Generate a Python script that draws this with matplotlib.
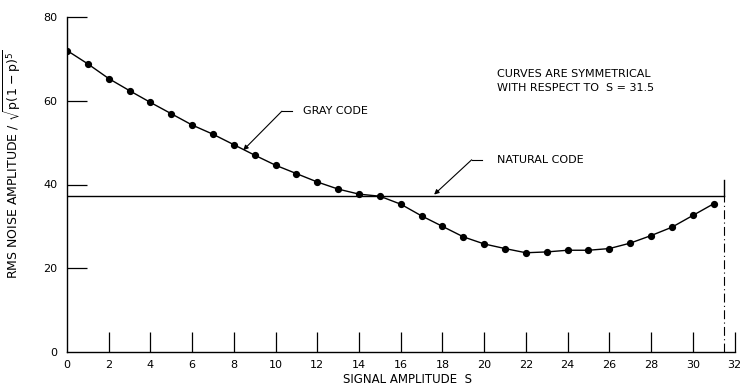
import numpy as np
import matplotlib.pyplot as plt

# signal amplitude S and rms noise (normalised)
s_vals = list(range(0, 32))
gray_code = [72.0, 68.8, 65.3, 62.4, 59.6, 56.9, 54.2, 52.0, 49.5, 47.0,
             44.6, 42.6, 40.6, 38.9, 37.7, 37.2, 35.3, 32.5, 30.0, 27.5,
             25.8, 24.7, 23.7, 23.9, 24.3, 24.3, 24.7, 26.0, 27.8, 29.8,
             32.6, 35.4]
natural_code = 37.3
sym_s = 31.5

x_ticks = list(range(0, 33, 2))
y_ticks = [0, 20, 40, 60, 80]

plt.rcParams['font.family'] = ['DejaVu Sans']
plt.rcParams['font.size'] = 8

fig = plt.figure(figsize=(7.41, 3.90), dpi=100)
ax = fig.add_axes([67 / 741, 38 / 390, 667.5 / 741, 335 / 390])

ax.plot(s_vals, gray_code, color='black', lw=1.0, marker='o', ms=4.2)
ax.plot([0, sym_s], [natural_code, natural_code], color='black', lw=1.0)
ax.plot([sym_s, sym_s], [natural_code, 41], color='black', lw=1.0)
ax.plot([sym_s, sym_s], [0, natural_code], color='black', lw=0.8,
        linestyle=(0, (8, 3, 1, 3)))

ax.set_xlim(0, 32)
ax.set_ylim(0, 80)
ax.set_xticks(x_ticks)
ax.set_yticks(y_ticks)
ax.tick_params(direction='in', length=14.5, width=0.9, colors='black',
               labelsize=8, pad=6)
ax.tick_params(axis='y', pad=7)
# no tick marks at the origin
ax.xaxis.get_major_ticks()[0].tick1line.set_visible(False)
ax.yaxis.get_major_ticks()[0].tick1line.set_visible(False)
for side in ['top', 'right']:
    ax.spines[side].set_visible(False)
ax.spines['left'].set_linewidth(1.0)
ax.spines['bottom'].set_linewidth(1.0)
ax.spines['left'].set_bounds(0, 80)

ax.set_xlabel('SIGNAL AMPLITUDE  S', fontsize=8.5, labelpad=2, x=0.51)
ax.set_ylabel(r'RMS NOISE AMPLITUDE / $\sqrt{\mathrm{p}(\,1-\mathrm{p})^5}$',
              fontsize=9)
ax.yaxis.set_label_coords(-0.064, 0.56)

# leader lines with labels
ax.annotate('', xy=(8.45, 48.2), xytext=(10.3, 57.5),
            arrowprops=dict(arrowstyle='-|>', color='black', lw=0.8,
                            mutation_scale=7, shrinkA=0, shrinkB=0))
ax.plot([10.3, 10.8], [57.5, 57.5], color='black', lw=0.8)
ax.text(11.3, 57.5, 'GRAY CODE', fontsize=8, va='center', ha='left')

ax.annotate('', xy=(17.6, 37.6), xytext=(19.4, 45.9),
            arrowprops=dict(arrowstyle='-|>', color='black', lw=0.8,
                            mutation_scale=7, shrinkA=0, shrinkB=0))
ax.plot([19.4, 19.9], [45.9, 45.9], color='black', lw=0.8)
ax.text(20.6, 45.9, 'NATURAL CODE', fontsize=8, va='center', ha='left')

ax.text(20.6, 64.8, 'CURVES ARE SYMMETRICAL\nWITH RESPECT TO  S = 31.5',
        fontsize=8, va='center', ha='left', linespacing=1.5)

fig.savefig('out.png', dpi=100)
